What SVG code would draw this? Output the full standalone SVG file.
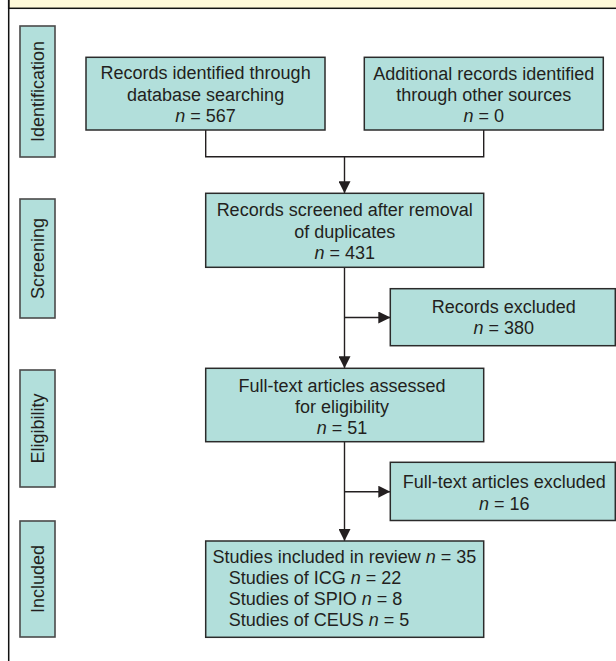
<svg xmlns="http://www.w3.org/2000/svg" width="616" height="661" viewBox="0 0 616 661">
<defs>
<style>
.box{fill:#b2dfdb;stroke:#2b2b2b;stroke-width:1.5}
.lab{fill:#b2dfdb;stroke:#4a4a4a;stroke-width:1.6}
.t{font-family:"Liberation Sans",Arial,sans-serif;font-size:18px;fill:#231f20}
.c{text-anchor:middle}
.ln{fill:none;stroke:#231f20;stroke-width:1.4}
.i{font-style:italic}
</style>
<marker id="ah" viewBox="0 0 12 12" refX="12" refY="6" markerWidth="12" markerHeight="12" markerUnits="userSpaceOnUse" orient="auto">
<path d="M0,0 L12,6 L0,12 Z" fill="#231f20"/>
</marker>
</defs>
<rect x="0" y="0" width="616" height="661" fill="#ffffff"/>
<g id="header">
<rect x="8.7" y="-2" width="610" height="10.3" fill="#fdf8d8" stroke="#111" stroke-width="1.5"/>
<line x1="8.7" y1="0" x2="8.7" y2="661" stroke="#111" stroke-width="1.5"/>
</g>
<g id="label-identification">
<rect class="lab" x="20" y="26" width="35" height="131"/>
<text class="t c" transform="translate(43.9,91.5) rotate(-90)">Identification</text>
</g>
<g id="label-screening">
<rect class="lab" x="20" y="199" width="35" height="119"/>
<text class="t c" transform="translate(43.9,258.5) rotate(-90)">Screening</text>
</g>
<g id="label-eligibility">
<rect class="lab" x="20" y="370" width="35" height="117"/>
<text class="t c" transform="translate(43.9,428.5) rotate(-90)">Eligibility</text>
</g>
<g id="label-included">
<rect class="lab" x="20" y="521" width="35" height="116"/>
<text class="t c" transform="translate(43.9,579) rotate(-90)">Included</text>
</g>
<g id="connectors">
<path class="ln" d="M205.7,130 V156.7 H483.7 V130"/>
<path class="ln" d="M344.5,156.7 V193.3" marker-end="url(#ah)"/>
<path class="ln" d="M344.5,267.3 V368.3" marker-end="url(#ah)"/>
<path class="ln" d="M344.5,317.5 H390.3" marker-end="url(#ah)"/>
<path class="ln" d="M344.5,441.7 V541" marker-end="url(#ah)"/>
<path class="ln" d="M344.5,491.7 H390.3" marker-end="url(#ah)"/>
</g>
<g id="node-database">
<rect class="box" x="86" y="57.3" width="239" height="72.7"/>
<text class="t c" x="205.6" y="79.3">Records identified through</text>
<text class="t c" x="205.6" y="100.8">database searching</text>
<text class="t c" x="205.6" y="121.7"><tspan class="i">n</tspan> = 567</text>
</g>
<g id="node-other">
<rect class="box" x="364.3" y="57.3" width="239" height="72.7"/>
<text class="t c" x="483.8" y="79.8">Additional records identified</text>
<text class="t c" x="483.8" y="101.3">through other sources</text>
<text class="t c" x="483.8" y="122.2"><tspan class="i">n</tspan> = 0</text>
</g>
<g id="node-screened">
<rect class="box" x="205.7" y="193.3" width="278" height="74"/>
<text class="t c" x="344.7" y="216">Records screened after removal</text>
<text class="t c" x="344.7" y="237.5">of duplicates</text>
<text class="t c" x="344.7" y="259.3"><tspan class="i">n</tspan> = 431</text>
</g>
<g id="node-excluded">
<rect class="box" x="390.3" y="288.7" width="225" height="57"/>
<text class="t c" x="503.7" y="312.5">Records excluded</text>
<text class="t c" x="503.7" y="334"><tspan class="i">n</tspan> = 380</text>
</g>
<g id="node-fulltext">
<rect class="box" x="205.7" y="368.3" width="278" height="73.4"/>
<text class="t c" x="342" y="391.7">Full-text articles assessed</text>
<text class="t c" x="342" y="413.2">for eligibility</text>
<text class="t c" x="342" y="434.3"><tspan class="i">n</tspan> = 51</text>
</g>
<g id="node-fulltext-excluded">
<rect class="box" x="390.3" y="462.3" width="225" height="58.2"/>
<text class="t c" x="504.3" y="488">Full-text articles excluded</text>
<text class="t c" x="504.3" y="509.5"><tspan class="i">n</tspan> = 16</text>
</g>
<g id="node-included">
<rect class="box" x="205.7" y="541" width="278" height="96.3"/>
<text class="t" x="212.6" y="562.7">Studies included in review <tspan class="i">n</tspan> = 35</text>
<text class="t" x="228.7" y="584">Studies of ICG <tspan class="i">n</tspan> = 22</text>
<text class="t" x="228.7" y="605">Studies of SPIO <tspan class="i">n</tspan> = 8</text>
<text class="t" x="228.7" y="626">Studies of CEUS <tspan class="i">n</tspan> = 5</text>
</g>
</svg>
